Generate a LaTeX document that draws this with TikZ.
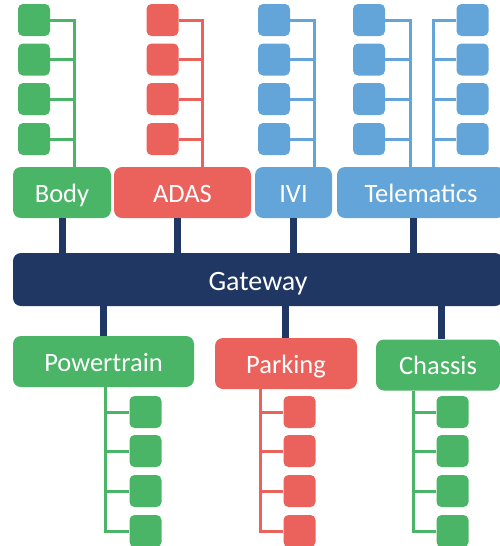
\documentclass[tikz,border=0pt]{standalone}
\usepackage{fontspec}
\setmainfont{Carlito}
\definecolor{ecugreen}{RGB}{75,181,103}
\definecolor{ecured}{RGB}{235,97,91}
\definecolor{ecublue}{RGB}{99,165,216}
\definecolor{gwnavy}{RGB}{32,54,99}
\begin{document}
\begin{tikzpicture}[x=1pt, y=-1pt,
  zonebox/.style={rectangle, rounded corners=8pt, minimum height=51pt, inner sep=0pt,
                 text=white, font=\fontsize{26.5}{30}\selectfont,
                 text height=21.2pt, text depth=2pt},
  ecu/.style={rectangle, rounded corners=5pt, minimum size=32pt, inner sep=0pt},
  bus/.style={line width=3pt},
  trunk/.style={line width=7pt, draw=gwnavy}]
\useasboundingbox (0,0) rectangle (500,546);
\clip (0,0) rectangle (500,546);

% domain controllers
\node[zonebox, fill=ecugreen, minimum width=98pt]  (body) at (62,192.5)   {Body};
\node[zonebox, fill=ecured,   minimum width=137pt] (adas) at (182.5,192.5) {ADAS};
\node[zonebox, fill=ecublue,  minimum width=77pt]  (ivi)  at (293.5,192.5) {IVI};
\node[zonebox, fill=ecublue,  minimum width=168pt] (tele) at (421,192.5)  {Telematics};
\node[zonebox, fill=gwnavy,   minimum width=490pt, minimum height=53pt,
      font=\fontsize{28}{32}\selectfont, text height=23pt] (gw) at (258,279.5) {Gateway};
\node[zonebox, fill=ecugreen, minimum width=181pt] (pt)   at (103.5,361.5) {Powertrain};
\node[zonebox, fill=ecured,   minimum width=142pt] (park) at (286,363.5)  {Parking};
\node[zonebox, fill=ecugreen, minimum width=124pt] (chas) at (438,365)    {Chassis};

% trunks to the gateway
\foreach \n/\dom/\tx in {t1/body/62, t2/adas/177, t3/ivi/293, t4/tele/413} {
  \coordinate (\n) at (\tx,0);
  \draw[trunk] (\dom.south -| \n) -- (gw.north -| \n);
}
\foreach \n/\dom/\tx in {u1/pt/103, u2/park/285, u3/chas/441} {
  \coordinate (\n) at (\tx,0);
  \draw[trunk] (gw.south -| \n) -- (\dom.north -| \n);
}

% ECUs above the upper domains
\foreach \p/\cx/\vx/\col/\dom in {b/34/74/ecugreen/body, a/162.5/202/ecured/adas,
    i/274/314/ecublue/ivi, tl/369/410/ecublue/tele, tr/472.5/433/ecublue/tele} {
  \coordinate (\p-v) at (\vx,0);
  \foreach \k/\cy in {1/20,2/59.5,3/99,4/139} {
    \node[ecu, fill=\col] (\p\k) at (\cx,\cy) {};
  }
  \draw[bus, \col] (\dom.north -| \p-v) |- (\p1);
  \foreach \k in {2,3,4} {
    \draw[bus, \col] (\p\k) -- (\p\k -| \p-v);
  }
}

% ECUs below the lower domains
\foreach \p/\cx/\vx/\col/\dom in {w/145.5/105/ecugreen/pt, r/299.5/260/ecured/park,
    c/452.5/413/ecugreen/chas} {
  \coordinate (\p-v) at (\vx,0);
  \foreach \k/\cy in {1/412,2/451,3/491,4/531} {
    \node[ecu, fill=\col] (\p\k) at (\cx,\cy) {};
  }
  \draw[bus, \col] (\dom.south -| \p-v) |- (\p4);
  \foreach \k in {1,2,3} {
    \draw[bus, \col] (\p\k) -- (\p\k -| \p-v);
  }
}
\end{tikzpicture}
\end{document}
